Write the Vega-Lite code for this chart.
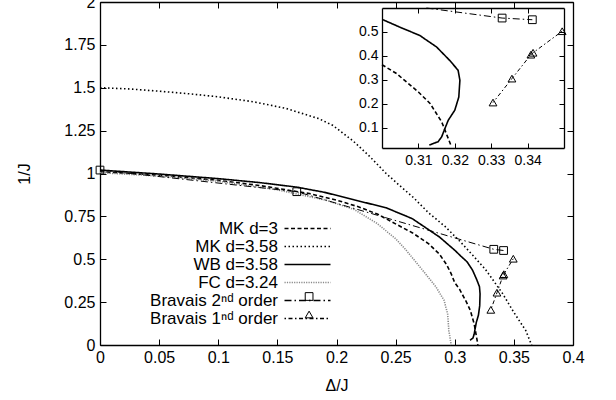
{
  "$schema": "https://vega.github.io/schema/vega-lite/v6.json",
  "width": 473,
  "height": 343,
  "autosize": "none",
  "padding": {"left": 100, "top": 2, "right": 43, "bottom": 55},
  "config": {
    "view": {"stroke": null},
    "font": "Liberation Sans",
    "axis": {"grid": false, "domainColor": "black", "domainWidth": 1.3, "tickColor": "black", "tickWidth": 1, "labelColor": "black", "labelFont": "Liberation Sans", "labelFontSize": 16, "titleFont": "Liberation Sans", "titleFontSize": 16, "titleFontWeight": "normal", "titleColor": "black", "labelFlush": false, "labelOverlap": false, "labelBound": false},
    "legend": {"labelFont": "Liberation Sans", "labelFontSize": 17, "labelColor": "black", "padding": 0}
  },
  "datasets": {
    "main": [
      {"series": "MK d=3", "x": 0, "y": 1.01}, {"series": "MK d=3", "x": 0.05, "y": 0.99}, {"series": "MK d=3", "x": 0.1, "y": 0.96}, {"series": "MK d=3", "x": 0.135, "y": 0.93}, {"series": "MK d=3", "x": 0.177, "y": 0.883}, {"series": "MK d=3", "x": 0.2, "y": 0.845}, {"series": "MK d=3", "x": 0.219, "y": 0.805}, {"series": "MK d=3", "x": 0.235, "y": 0.762}, {"series": "MK d=3", "x": 0.247, "y": 0.717}, {"series": "MK d=3", "x": 0.264, "y": 0.655}, {"series": "MK d=3", "x": 0.278, "y": 0.59}, {"series": "MK d=3", "x": 0.287, "y": 0.53}, {"series": "MK d=3", "x": 0.293, "y": 0.47}, {"series": "MK d=3", "x": 0.297, "y": 0.415}, {"series": "MK d=3", "x": 0.3, "y": 0.363}, {"series": "MK d=3", "x": 0.304, "y": 0.326}, {"series": "MK d=3", "x": 0.31, "y": 0.249}, {"series": "MK d=3", "x": 0.3132, "y": 0.201}, {"series": "MK d=3", "x": 0.3164, "y": 0.124}, {"series": "MK d=3", "x": 0.3191, "y": 0.02}, {"series": "MK d=3", "x": 0.3195, "y": 0},
      {"series": "MK d=3.58", "x": 0, "y": 1.5}, {"series": "MK d=3.58", "x": 0.025, "y": 1.493}, {"series": "MK d=3.58", "x": 0.05, "y": 1.48}, {"series": "MK d=3.58", "x": 0.075, "y": 1.465}, {"series": "MK d=3.58", "x": 0.1, "y": 1.447}, {"series": "MK d=3.58", "x": 0.13, "y": 1.418}, {"series": "MK d=3.58", "x": 0.157, "y": 1.38}, {"series": "MK d=3.58", "x": 0.185, "y": 1.32}, {"series": "MK d=3.58", "x": 0.197, "y": 1.28}, {"series": "MK d=3.58", "x": 0.214, "y": 1.19}, {"series": "MK d=3.58", "x": 0.228, "y": 1.1}, {"series": "MK d=3.58", "x": 0.242, "y": 1.0}, {"series": "MK d=3.58", "x": 0.255, "y": 0.92}, {"series": "MK d=3.58", "x": 0.265, "y": 0.86}, {"series": "MK d=3.58", "x": 0.278, "y": 0.77}, {"series": "MK d=3.58", "x": 0.292, "y": 0.69}, {"series": "MK d=3.58", "x": 0.305, "y": 0.6}, {"series": "MK d=3.58", "x": 0.315, "y": 0.525}, {"series": "MK d=3.58", "x": 0.326, "y": 0.44}, {"series": "MK d=3.58", "x": 0.34, "y": 0.305}, {"series": "MK d=3.58", "x": 0.35, "y": 0.19}, {"series": "MK d=3.58", "x": 0.36, "y": 0.085}, {"series": "MK d=3.58", "x": 0.365, "y": 0},
      {"series": "WB d=3.58", "x": 0, "y": 1.02}, {"series": "WB d=3.58", "x": 0.05, "y": 0.997}, {"series": "WB d=3.58", "x": 0.1, "y": 0.97}, {"series": "WB d=3.58", "x": 0.135, "y": 0.947}, {"series": "WB d=3.58", "x": 0.166, "y": 0.921}, {"series": "WB d=3.58", "x": 0.19, "y": 0.89}, {"series": "WB d=3.58", "x": 0.214, "y": 0.848}, {"series": "WB d=3.58", "x": 0.242, "y": 0.8}, {"series": "WB d=3.58", "x": 0.264, "y": 0.737}, {"series": "WB d=3.58", "x": 0.287, "y": 0.63}, {"series": "WB d=3.58", "x": 0.3001, "y": 0.552}, {"series": "WB d=3.58", "x": 0.3049, "y": 0.52}, {"series": "WB d=3.58", "x": 0.3104, "y": 0.485}, {"series": "WB d=3.58", "x": 0.315, "y": 0.437}, {"series": "WB d=3.58", "x": 0.3186, "y": 0.381}, {"series": "WB d=3.58", "x": 0.3209, "y": 0.34}, {"series": "WB d=3.58", "x": 0.3214, "y": 0.298}, {"series": "WB d=3.58", "x": 0.3211, "y": 0.228}, {"series": "WB d=3.58", "x": 0.32, "y": 0.173}, {"series": "WB d=3.58", "x": 0.3182, "y": 0.131}, {"series": "WB d=3.58", "x": 0.3173, "y": 0.097}, {"series": "WB d=3.58", "x": 0.3164, "y": 0.062}, {"series": "WB d=3.58", "x": 0.3154, "y": 0.041}, {"series": "WB d=3.58", "x": 0.3141, "y": 0.034}, {"series": "WB d=3.58", "x": 0.313, "y": 0.027},
      {"series": "FC d=3.24", "x": 0, "y": 1.005}, {"series": "FC d=3.24", "x": 0.05, "y": 0.985}, {"series": "FC d=3.24", "x": 0.1, "y": 0.955}, {"series": "FC d=3.24", "x": 0.15, "y": 0.905}, {"series": "FC d=3.24", "x": 0.191, "y": 0.845}, {"series": "FC d=3.24", "x": 0.215, "y": 0.79}, {"series": "FC d=3.24", "x": 0.234, "y": 0.71}, {"series": "FC d=3.24", "x": 0.25, "y": 0.62}, {"series": "FC d=3.24", "x": 0.258, "y": 0.56}, {"series": "FC d=3.24", "x": 0.264, "y": 0.51}, {"series": "FC d=3.24", "x": 0.27, "y": 0.46}, {"series": "FC d=3.24", "x": 0.277, "y": 0.4}, {"series": "FC d=3.24", "x": 0.284, "y": 0.34}, {"series": "FC d=3.24", "x": 0.291, "y": 0.26}, {"series": "FC d=3.24", "x": 0.294, "y": 0.18}, {"series": "FC d=3.24", "x": 0.295, "y": 0.085}, {"series": "FC d=3.24", "x": 0.297, "y": 0},
      {"series": "Bravais 2ⁿᵈ order", "x": 0, "y": 1.02}, {"series": "Bravais 2ⁿᵈ order", "x": 0.1664, "y": 0.894}, {"series": "Bravais 2ⁿᵈ order", "x": 0.333, "y": 0.558}, {"series": "Bravais 2ⁿᵈ order", "x": 0.3413, "y": 0.551},
      {"series": "Bravais 1ⁿᵈ order", "x": 0.3305, "y": 0.205}, {"series": "Bravais 1ⁿᵈ order", "x": 0.3357, "y": 0.305}, {"series": "Bravais 1ⁿᵈ order", "x": 0.3409, "y": 0.405}, {"series": "Bravais 1ⁿᵈ order", "x": 0.3415, "y": 0.413}, {"series": "Bravais 1ⁿᵈ order", "x": 0.3495, "y": 0.503}
    ],
    "inset": [
      {"series": "MK d=3", "x": 0.3, "y": 0.363}, {"series": "MK d=3", "x": 0.304, "y": 0.326}, {"series": "MK d=3", "x": 0.31, "y": 0.249}, {"series": "MK d=3", "x": 0.3132, "y": 0.201}, {"series": "MK d=3", "x": 0.3164, "y": 0.124}, {"series": "MK d=3", "x": 0.3191, "y": 0.02},
      {"series": "WB d=3.58", "x": 0.3001, "y": 0.552}, {"series": "WB d=3.58", "x": 0.3049, "y": 0.52}, {"series": "WB d=3.58", "x": 0.3104, "y": 0.485}, {"series": "WB d=3.58", "x": 0.315, "y": 0.437}, {"series": "WB d=3.58", "x": 0.3186, "y": 0.381}, {"series": "WB d=3.58", "x": 0.3209, "y": 0.34}, {"series": "WB d=3.58", "x": 0.3214, "y": 0.298}, {"series": "WB d=3.58", "x": 0.3211, "y": 0.228}, {"series": "WB d=3.58", "x": 0.32, "y": 0.173}, {"series": "WB d=3.58", "x": 0.3182, "y": 0.131}, {"series": "WB d=3.58", "x": 0.3173, "y": 0.097}, {"series": "WB d=3.58", "x": 0.3164, "y": 0.062}, {"series": "WB d=3.58", "x": 0.3154, "y": 0.041}, {"series": "WB d=3.58", "x": 0.3141, "y": 0.034}, {"series": "WB d=3.58", "x": 0.313, "y": 0.027},
      {"series": "Bravais 2ⁿᵈ order", "x": 0.3122, "y": 0.6}, {"series": "Bravais 2ⁿᵈ order", "x": 0.333, "y": 0.558}, {"series": "Bravais 2ⁿᵈ order", "x": 0.3413, "y": 0.551},
      {"series": "Bravais 1ⁿᵈ order", "x": 0.3305, "y": 0.205}, {"series": "Bravais 1ⁿᵈ order", "x": 0.3357, "y": 0.305}, {"series": "Bravais 1ⁿᵈ order", "x": 0.3409, "y": 0.405}, {"series": "Bravais 1ⁿᵈ order", "x": 0.3415, "y": 0.413}, {"series": "Bravais 1ⁿᵈ order", "x": 0.3495, "y": 0.503}
    ]
  },
  "resolve": {"scale": {"x": "independent", "y": "independent"}},
  "layer": [
    {
      "data": {"name": "main"},
      "encoding": {
        "x": {"field": "x", "type": "quantitative", "scale": {"domain": [0, 0.4], "nice": false, "zero": false}, "axis": {"orient": "bottom", "values": [0, 0.05, 0.1, 0.15, 0.2, 0.25, 0.3, 0.35, 0.4], "format": ".3~g", "tickSize": -6, "labelPadding": 10, "title": "Δ/J", "titlePadding": 12}},
        "y": {"field": "y", "type": "quantitative", "scale": {"domain": [0, 2], "nice": false, "zero": false}, "axis": {"orient": "left", "values": [0, 0.25, 0.5, 0.75, 1, 1.25, 1.5, 1.75, 2], "format": ".3~g", "tickSize": -6, "labelPadding": 11, "title": "1/J", "titlePadding": 31}}
      },
      "layer": [
        {
          "transform": [{"filter": {"field": "series", "oneOf": ["MK d=3", "MK d=3.58", "WB d=3.58", "FC d=3.24"]}}],
          "mark": {"type": "line", "strokeWidth": 1.6, "strokeCap": "butt"},
          "encoding": {
            "order": {"field": "y", "sort": "descending"},
            "color": {"field": "series", "type": "nominal", "scale": {"domain": ["MK d=3", "MK d=3.58", "WB d=3.58", "FC d=3.24", "Bravais 2ⁿᵈ order", "Bravais 1ⁿᵈ order"], "range": ["black", "black", "black", "#8a8a8a", "black", "black"]}, "legend": {"orient": "none", "legendX": 199, "legendY": 218, "title": null, "symbolType": "M-4.6,0H4.6", "symbolSize": 100, "symbolStrokeWidth": 1.5, "labelAlign": "right", "labelOffset": -38, "rowPadding": 0, "labelLimit": 300}},
            "strokeDash": {"field": "series", "type": "nominal", "scale": {"domain": ["MK d=3", "MK d=3.58", "WB d=3.58", "FC d=3.24", "Bravais 2ⁿᵈ order", "Bravais 1ⁿᵈ order"], "range": [[4, 2.5], [1.5, 2.5], [1, 0], [1.2, 1.2], [7, 3, 1.5, 3], [1.5, 2.5, 4, 2.5]]}, "legend": {"orient": "none", "legendX": 199, "legendY": 218, "title": null, "symbolType": "M-4.6,0H4.6", "symbolSize": 100, "symbolStrokeWidth": 1.5, "labelAlign": "right", "labelOffset": -38, "rowPadding": 0, "labelLimit": 300}}
          }
        },
        {
          "transform": [{"filter": {"field": "series", "oneOf": ["Bravais 2ⁿᵈ order", "Bravais 1ⁿᵈ order"]}}],
          "mark": {"type": "line", "strokeWidth": 1, "strokeCap": "butt"},
          "encoding": {
            "order": {"field": "y", "sort": "descending"},
            "color": {"field": "series", "type": "nominal"},
            "strokeDash": {"field": "series", "type": "nominal"}
          }
        },
        {
          "transform": [{"filter": {"field": "series", "oneOf": ["Bravais 2ⁿᵈ order", "Bravais 1ⁿᵈ order"]}}],
          "mark": {"type": "point", "filled": false, "size": 60, "color": "black", "strokeWidth": 1, "opacity": 1},
          "encoding": {
            "shape": {"field": "series", "type": "nominal", "scale": {"domain": ["Bravais 2ⁿᵈ order", "Bravais 1ⁿᵈ order"], "range": ["square", "triangle-up"]}, "legend": {"orient": "none", "legendX": 200.6, "legendY": 286, "title": null, "symbolSize": 60, "symbolStrokeColor": "black", "symbolStrokeWidth": 1, "labelOpacity": 0, "rowPadding": 0}}
          }
        }
      ]
    },
    {
      "data": {"name": "main"},
      "mark": {"type": "point", "opacity": 0},
      "encoding": {
        "x": {"field": "x", "type": "quantitative", "scale": {"domain": [0, 0.4], "nice": false, "zero": false}, "axis": {"orient": "top", "values": [0, 0.05, 0.1, 0.15, 0.2, 0.25, 0.3, 0.35, 0.4], "tickSize": -6, "labels": false, "title": null}},
        "y": {"field": "y", "type": "quantitative", "scale": {"domain": [0, 2], "nice": false, "zero": false}, "axis": {"orient": "right", "values": [0, 0.25, 0.5, 0.75, 1, 1.25, 1.5, 1.75, 2], "tickSize": -6, "labels": false, "title": null}}
      }
    },
    {
      "data": {"name": "inset"},
      "encoding": {
        "x": {"field": "x", "type": "quantitative", "scale": {"domain": [0.3, 0.35], "range": [282, 464], "nice": false, "zero": false}, "axis": {"orient": "bottom", "offset": -197, "values": [0.31, 0.32, 0.33, 0.34], "format": ".3~g", "tickSize": -5, "labelPadding": 10, "labelFontSize": 14, "title": null}},
        "y": {"field": "y", "type": "quantitative", "scale": {"domain": [0.015, 0.6], "range": [146, 6], "nice": false, "zero": false}, "axis": {"orient": "left", "offset": -282, "values": [0.1, 0.2, 0.3, 0.4, 0.5], "format": ".3~g", "tickSize": -5, "labelPadding": 9, "labelFontSize": 14, "title": null}}
      },
      "layer": [
        {
          "transform": [{"filter": {"field": "series", "oneOf": ["MK d=3", "WB d=3.58"]}}],
          "mark": {"type": "line", "strokeWidth": 1.6, "strokeCap": "butt"},
          "encoding": {
            "order": {"field": "y", "sort": "descending"},
            "color": {"field": "series", "type": "nominal"},
            "strokeDash": {"field": "series", "type": "nominal"}
          }
        },
        {
          "transform": [{"filter": {"field": "series", "oneOf": ["Bravais 2ⁿᵈ order", "Bravais 1ⁿᵈ order"]}}],
          "mark": {"type": "line", "strokeWidth": 1, "strokeCap": "butt"},
          "encoding": {
            "order": {"field": "y", "sort": "descending"},
            "color": {"field": "series", "type": "nominal"},
            "strokeDash": {"field": "series", "type": "nominal"}
          }
        },
        {
          "transform": [{"filter": {"field": "series", "oneOf": ["Bravais 2ⁿᵈ order", "Bravais 1ⁿᵈ order"]}}, {"filter": "datum.y < 0.599"}],
          "mark": {"type": "point", "filled": false, "size": 60, "color": "black", "strokeWidth": 1, "opacity": 1},
          "encoding": {
            "shape": {"field": "series", "type": "nominal"}
          }
        }
      ]
    },
    {
      "data": {"name": "inset"},
      "mark": {"type": "point", "opacity": 0},
      "encoding": {
        "x": {"field": "x", "type": "quantitative", "scale": {"domain": [0.3, 0.35], "range": [282, 464], "nice": false, "zero": false}, "axis": {"orient": "top", "offset": -6, "values": [0.31, 0.32, 0.33, 0.34], "tickSize": -5, "labels": false, "title": null}},
        "y": {"field": "y", "type": "quantitative", "scale": {"domain": [0.015, 0.6], "range": [146, 6], "nice": false, "zero": false}, "axis": {"orient": "right", "offset": -9, "values": [0.1, 0.2, 0.3, 0.4, 0.5], "tickSize": -5, "labels": false, "title": null}}
      }
    }
  ]
}
